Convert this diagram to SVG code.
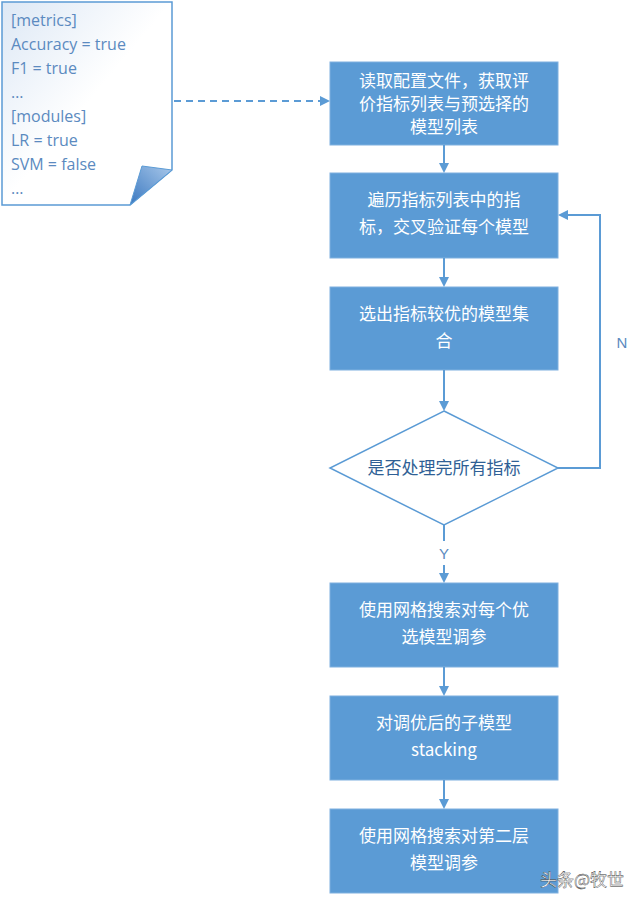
<svg xmlns="http://www.w3.org/2000/svg" width="640" height="904" viewBox="0 0 640 904">
<style>
.b{fill:#5b9bd5;stroke:#7fb0df;stroke-width:1}
.t{font-family:"Noto Sans CJK SC","Liberation Sans",sans-serif;font-size:17px;fill:#fff;text-anchor:middle}
.d{font-family:"Open Sans","Liberation Sans",sans-serif;font-size:16px;fill:#5b8ac0}
.c{stroke:#5b9bd5;stroke-width:2;fill:none}
</style>
<defs>
<linearGradient id="g" x1="0" y1="0" x2="1" y2="1"><stop offset="0" stop-color="#dde8f5"/><stop offset="0.5" stop-color="#fff"/></linearGradient>
<linearGradient id="f" x1="0" y1="1" x2="1" y2="0"><stop offset="0" stop-color="#3a78c0"/><stop offset="1" stop-color="#a9c8ea"/></linearGradient>
<marker id="a" markerWidth="10" markerHeight="10" refX="8" refY="5" orient="auto" markerUnits="userSpaceOnUse"><path d="M0,0 L10,5 L0,10 Z" fill="#5b9bd5"/></marker>
</defs>
<g id="doc">
<path d="M2,2 H172 V170 L130,205 H2 Z" fill="url(#g)" stroke="#5b9bd5" stroke-width="1.5"/>
<path d="M130,205 L142,166 L172,170 Z" fill="url(#f)" stroke="#5b9bd5" stroke-width="1"/>
<text class="d" x="11" y="26">[metrics]</text>
<text class="d" x="11" y="50">Accuracy = true</text>
<text class="d" x="11" y="74">F1 = true</text>
<text class="d" x="11" y="98">…</text>
<text class="d" x="11" y="122">[modules]</text>
<text class="d" x="11" y="146">LR = true</text>
<text class="d" x="11" y="170">SVM = false</text>
<text class="d" x="11" y="194">…</text>
</g>
<g id="n1"><rect class="b" x="330" y="62" width="228" height="83"/><text class="t" x="444" y="87">读取配置文件，获取评</text><text class="t" x="444" y="110">价指标列表与预选择的</text><text class="t" x="444" y="133">模型列表</text></g>
<g id="n2"><rect class="b" x="330" y="173" width="228" height="85"/><text class="t" x="444" y="206">遍历指标列表中的指</text><text class="t" x="444" y="233">标，交叉验证每个模型</text></g>
<g id="n3"><rect class="b" x="330" y="287" width="228" height="83"/><text class="t" x="444" y="320">选出指标较优的模型集</text><text class="t" x="444" y="347">合</text></g>
<g id="n4"><path class="b" d="M444,411 L558,468 L444,525 L330,468 Z" fill="#fff" style="fill:#fff;stroke:#5b9bd5;stroke-width:1.5"/><text class="t" x="444" y="474" style="fill:#2f5f95">是否处理完所有指标</text></g>
<g id="n5"><rect class="b" x="330" y="583" width="228" height="84"/><text class="t" x="444" y="616">使用网格搜索对每个优</text><text class="t" x="444" y="643">选模型调参</text></g>
<g id="n6"><rect class="b" x="330" y="696" width="228" height="84"/><text class="t" x="444" y="729">对调优后的子模型</text><text class="t" x="444" y="756">stacking</text></g>
<g id="n7"><rect class="b" x="330" y="809" width="228" height="84"/><text class="t" x="444" y="842">使用网格搜索对第二层</text><text class="t" x="444" y="869">模型调参</text></g>
<g id="connectors">
<path class="c" d="M174,101 H328" stroke-dasharray="7,5" marker-end="url(#a)"/>
<path class="c" d="M444,145 V171" marker-end="url(#a)"/>
<path class="c" d="M444,258 V285" marker-end="url(#a)"/>
<path class="c" d="M444,370 V409" marker-end="url(#a)"/>
<path class="c" d="M444,525 V581" marker-end="url(#a)"/>
<path class="c" d="M444,667 V694" marker-end="url(#a)"/>
<path class="c" d="M444,780 V807" marker-end="url(#a)"/>
<path class="c" d="M558,468 H600 V215 H560" marker-end="url(#a)"/>
<rect x="612" y="330" width="20" height="24" fill="#fff"/>
<text x="622" y="348" font-family="Liberation Sans,sans-serif" font-size="15" fill="#5b8ac0" text-anchor="middle">N</text>
<rect x="434" y="541" width="20" height="24" fill="#fff"/>
<text x="444" y="559" font-family="Liberation Sans,sans-serif" font-size="15" fill="#5b8ac0" text-anchor="middle">Y</text>
</g>
<text x="540" y="886" font-family="Noto Sans CJK SC,sans-serif" font-size="17" fill="#fff" stroke="#333" stroke-width="0.4">头条@牧世</text>
</svg>
